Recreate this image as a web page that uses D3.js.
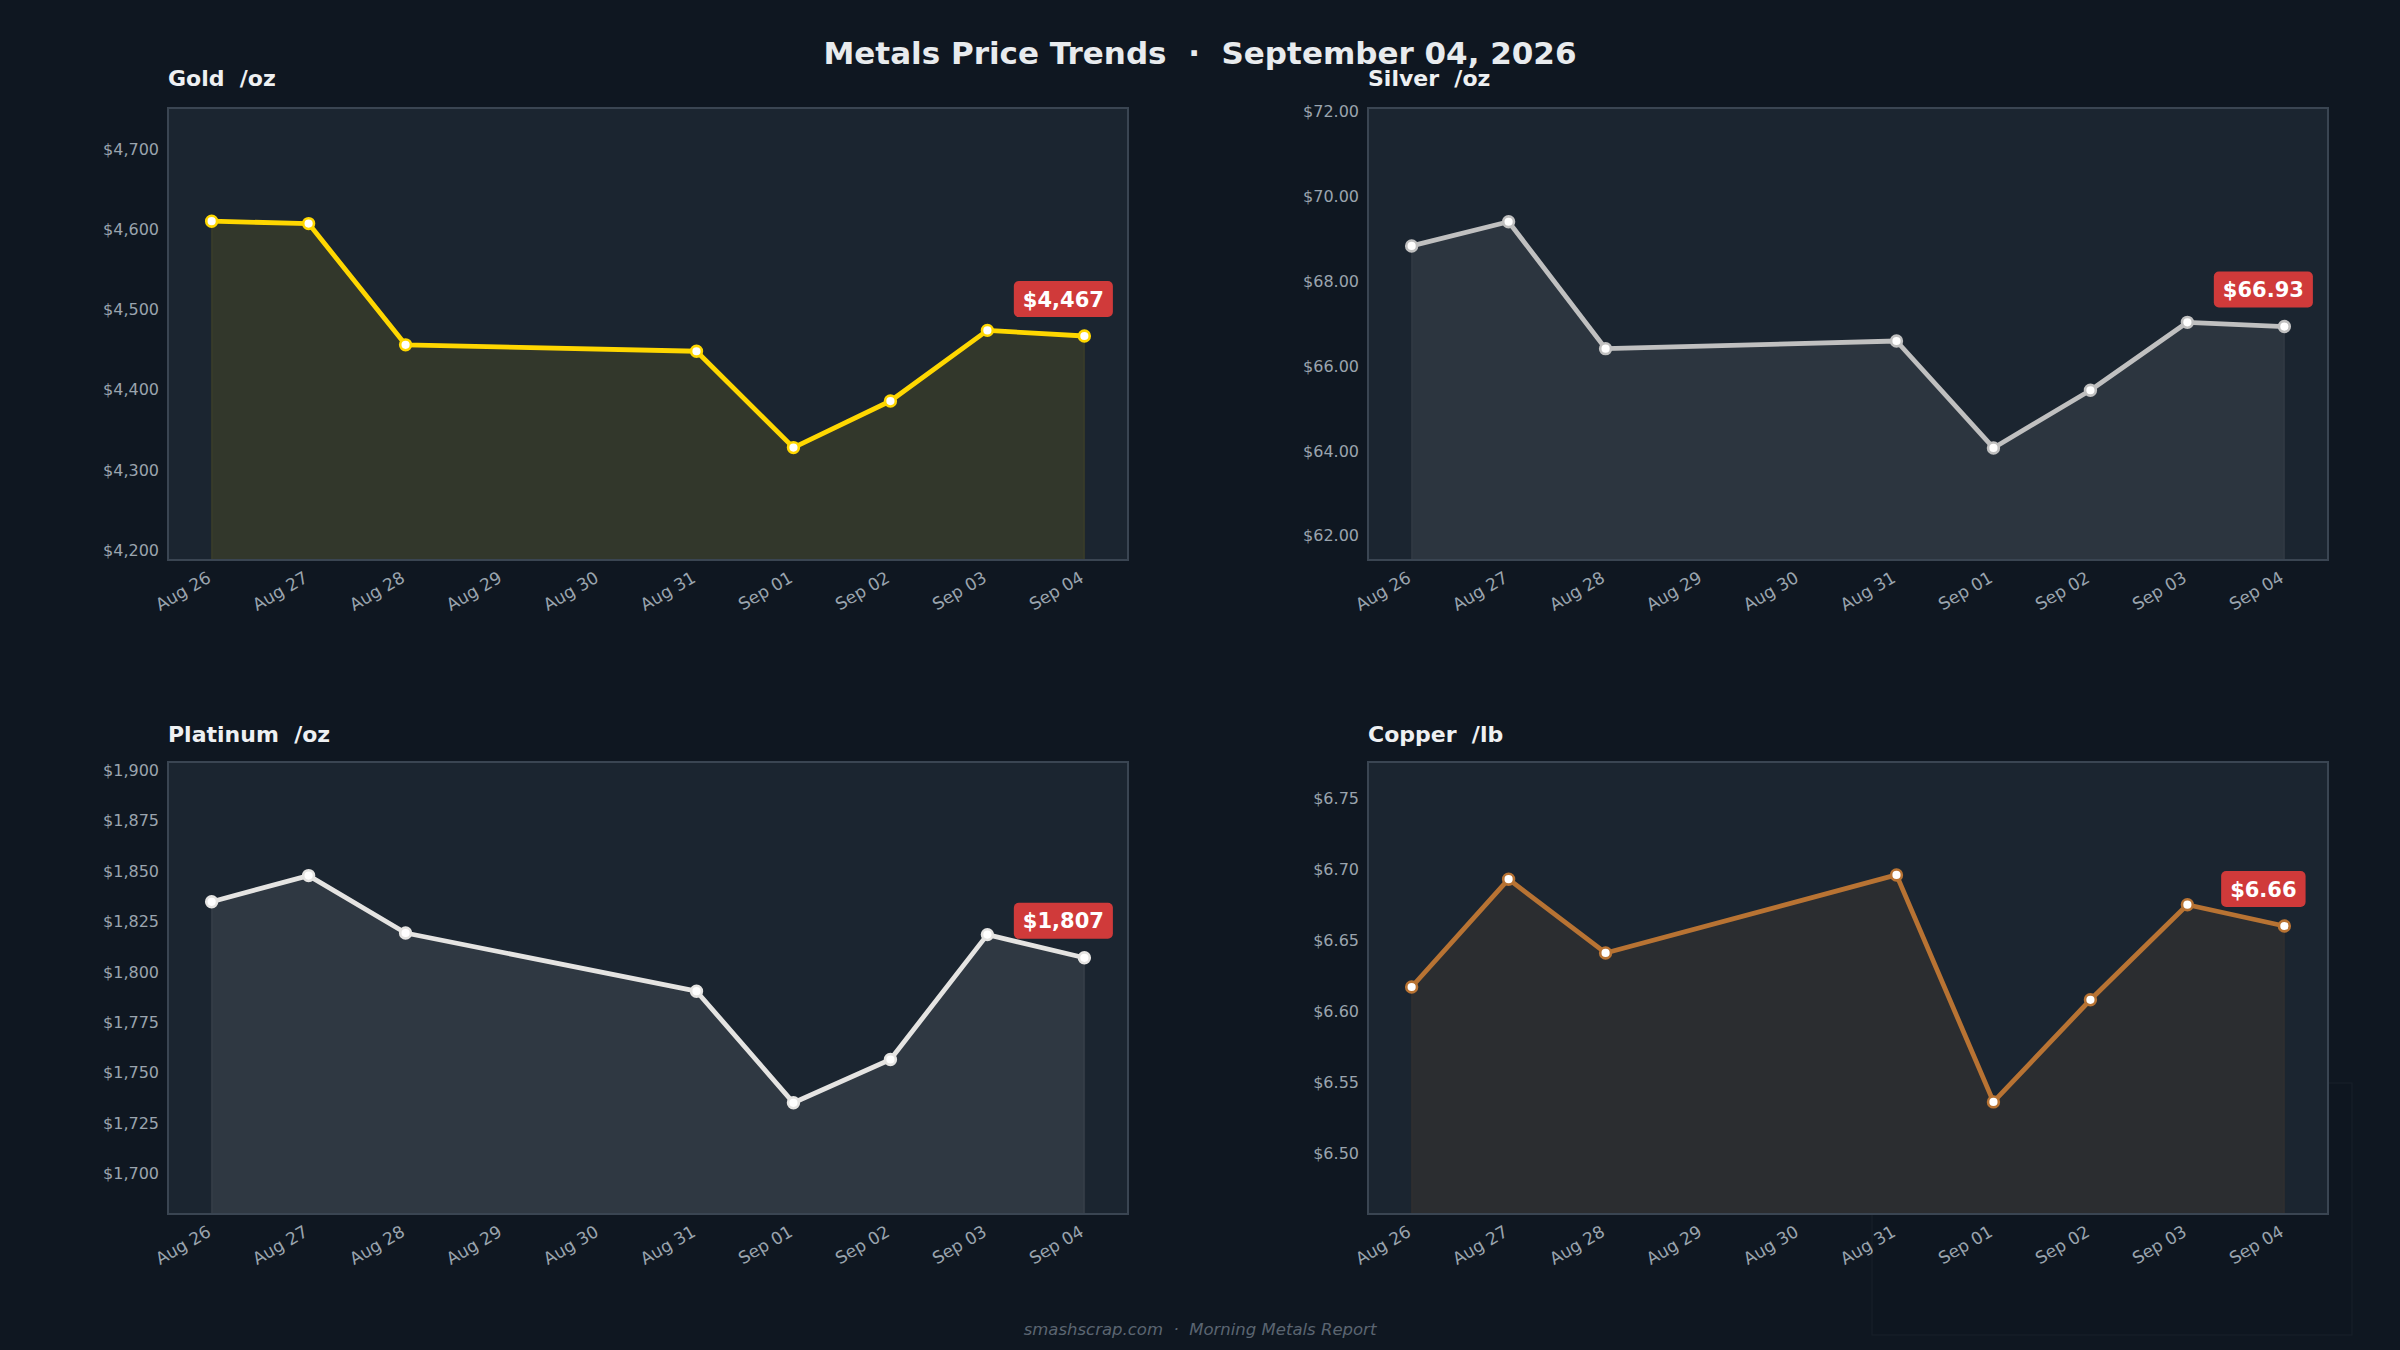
<!DOCTYPE html>
<html>
<head>
<meta charset="utf-8">
<script src="https://cdn.jsdelivr.net/npm/d3@7/dist/d3.min.js"></script>
<style>
	html, body { margin: 0; padding: 0; background: #0f1721; }
	svg { display: block; font-family: 'DejaVu Sans', sans-serif; }
	text { white-space: pre; }
</style>
</head>
<body>
<svg id="chart"></svg>
<script>
const width = 2400;
const height = 1350;

// trading days shown on every panel
const dates = ['2026-08-26', '2026-08-27', '2026-08-28', '2026-08-31', '2026-09-01', '2026-09-02', '2026-09-03', '2026-09-04'];
const tickDays = ['2026-08-26', '2026-08-27', '2026-08-28', '2026-08-29', '2026-08-30', '2026-08-31', '2026-09-01', '2026-09-02', '2026-09-03', '2026-09-04'];

const metalNames = ['Gold', 'Silver', 'Platinum', 'Copper'];
const metalUnits = ['/oz', '/oz', '/oz', '/lb'];

const goldPrices = [4610, 4607, 4456, 4448, 4328, 4386, 4474, 4467];
const silverPrices = [68.83, 69.40, 66.41, 66.59, 64.07, 65.43, 67.03, 66.93];
const platinumPrices = [1834.8, 1847.8, 1819.3, 1790.4, 1735.0, 1756.5, 1818.5, 1807.0];
const copperPrices = [6.617, 6.693, 6.641, 6.696, 6.536, 6.608, 6.675, 6.66];

// y limits and tick spacing
const yLimits = [[4188, 4751], [61.43, 72.08], [1679.8, 1904.2], [6.457, 6.7756]];
const yTickSteps = [100, 2, 25, 0.05];
const yTickFormats = ['$,.0f', '$.2f', '$,.0f', '$.2f'];

const title = 'Metals Price Trends  ·  September 04, 2026';
const footer = 'smashscrap.com  ·  Morning Metals Report';

const lineColors = ['#ffd700', '#c0c0c0', '#e5e4e2', '#b87333'];
const panels = [
	{ x: 168, y: 108 },
	{ x: 1368, y: 108 },
	{ x: 168, y: 762 },
	{ x: 1368, y: 762 }
];
const plotW = 960;
const plotH = 452;

const parseDay = d3.timeParse('%Y-%m-%d');
const dayMs = 24 * 3600 * 1000;

const svg = d3.select('#chart')
	.attr('width', width)
	.attr('height', height);

svg.append('rect')
	.attr('width', width)
	.attr('height', height)
	.attr('fill', '#0f1721');

// faint leftover box behind the copper panel
svg.append('rect')
	.attr('x', 1872)
	.attr('y', 1083)
	.attr('width', 480)
	.attr('height', 252)
	.attr('fill', '#0e1620')
	.attr('stroke', '#18202a')
	.attr('stroke-width', 1);

svg.append('text')
	.attr('x', width / 2)
	.attr('y', 64)
	.attr('text-anchor', 'middle')
	.attr('font-size', 31)
	.attr('font-weight', 'bold')
	.attr('fill', '#e8ebee')
	.text(title);

svg.append('text')
	.attr('x', width / 2)
	.attr('y', 1335)
	.attr('text-anchor', 'middle')
	.attr('font-size', 16.5)
	.attr('font-style', 'italic')
	.attr('fill', '#5b6571')
	.text(footer);

const drawPanel = (i, prices) => {
	const p = panels[i];
	const g = svg.append('g')
		.attr('transform', `translate(${p.x},${p.y})`);

	const first = parseDay(dates[0]);
	const last = parseDay(dates[dates.length - 1]);
	const xScale = d3.scaleTime()
		.domain([new Date(+first - 0.45 * dayMs), new Date(+last + 0.45 * dayMs)])
		.range([0, plotW]);

	const yScale = d3.scaleLinear()
		.domain(yLimits[i])
		.range([plotH, 0]);

	const points = dates.map((d, k) => ({ date: parseDay(d), value: prices[k] }));

	g.append('text')
		.attr('x', 0)
		.attr('y', i < 2 ? -22 : -20)
		.attr('font-size', 22)
		.attr('font-weight', 'bold')
		.attr('fill', '#eef0f2')
		.text(`${metalNames[i]}  ${metalUnits[i]}`);

	g.append('rect')
		.attr('width', plotW)
		.attr('height', plotH)
		.attr('fill', '#1b2530');

	const area = d3.area()
		.x(d => xScale(d.date))
		.y0(plotH)
		.y1(d => yScale(d.value));

	g.append('path')
		.datum(points)
		.attr('d', area)
		.attr('fill', lineColors[i])
		.attr('fill-opacity', 0.1)
		.attr('stroke', lineColors[i])
		.attr('stroke-opacity', 0.08)
		.attr('stroke-width', 1.5);

	const line = d3.line()
		.x(d => xScale(d.date))
		.y(d => yScale(d.value));

	g.append('path')
		.datum(points)
		.attr('d', line)
		.attr('fill', 'none')
		.attr('stroke', lineColors[i])
		.attr('stroke-width', 4.8)
		.attr('stroke-linejoin', 'round')
		.attr('stroke-linecap', 'round');

	g.selectAll('.dot')
		.data(points)
		.enter()
		.append('circle')
		.attr('class', 'dot')
		.attr('cx', d => xScale(d.date))
		.attr('cy', d => yScale(d.value))
		.attr('r', 5.4)
		.attr('fill', '#ffffff')
		.attr('stroke', lineColors[i])
		.attr('stroke-width', 2.6);

	// frame
	g.append('rect')
		.attr('width', plotW)
		.attr('height', plotH)
		.attr('fill', 'none')
		.attr('stroke', '#3a4552')
		.attr('stroke-width', 2);

	const yTicks = d3.range(
		Math.ceil(yLimits[i][0] / yTickSteps[i] - 1e-9) * yTickSteps[i],
		yLimits[i][1] + 1e-9,
		yTickSteps[i]
	);
	const yAxis = d3.axisLeft(yScale)
		.tickValues(yTicks)
		.tickFormat(d3.format(yTickFormats[i]))
		.tickSize(0)
		.tickPadding(9);
	const yG = g.append('g').call(yAxis);
	yG.select('.domain').remove();
	yG.selectAll('text')
		.attr('font-family', 'DejaVu Sans, sans-serif')
		.attr('font-size', 16)
		.attr('fill', '#9aa4ae');

	const xAxis = d3.axisBottom(xScale)
		.tickValues(tickDays.map(parseDay))
		.tickFormat(d3.timeFormat('%b %d'))
		.tickSize(0)
		.tickPadding(0);
	const xG = g.append('g')
		.attr('transform', `translate(0,${plotH})`)
		.call(xAxis);
	xG.select('.domain').remove();
	xG.selectAll('text')
		.attr('font-family', 'DejaVu Sans, sans-serif')
		.attr('font-size', 17)
		.attr('fill', '#9aa4ae')
		.attr('text-anchor', 'end')
		.attr('dy', '0.35em')
		.attr('transform', 'translate(-3,16) rotate(-30)');

	// last value badge
	const lastPt = points[points.length - 1];
	const fmt = d3.format(yTickFormats[i]);
	const bx = xScale(lastPt.date) - 21;
	const by = yScale(lastPt.value) - 37;
	const badge = g.append('g').attr('transform', `translate(${bx},${by})`);
	const label = badge.append('text')
		.attr('text-anchor', 'middle')
		.attr('dy', '0.36em')
		.attr('font-size', 21)
		.attr('font-weight', 'bold')
		.attr('fill', '#ffffff')
		.text(fmt(lastPt.value));
	const tw = label.node().getComputedTextLength();
	badge.insert('rect', 'text')
		.attr('x', -tw / 2 - 9)
		.attr('y', -18)
		.attr('width', tw + 18)
		.attr('height', 36)
		.attr('rx', 5)
		.attr('fill', '#d03a3a');
};

[goldPrices, silverPrices, platinumPrices, copperPrices].forEach((prices, i) => drawPanel(i, prices));
</script>
</body>
</html>
